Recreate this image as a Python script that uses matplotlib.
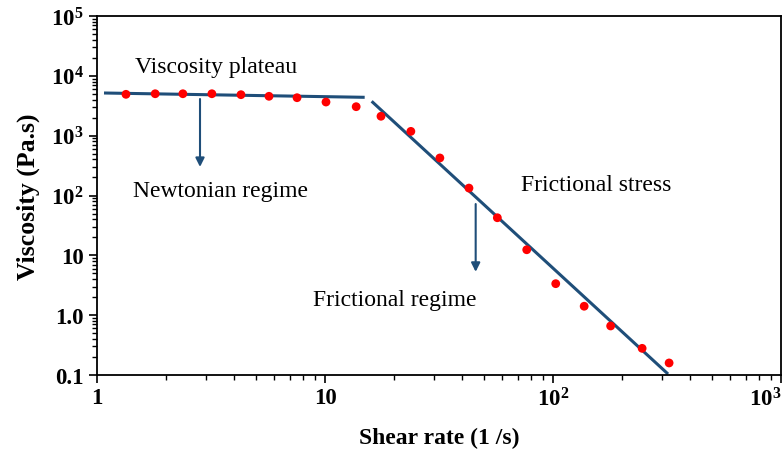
import matplotlib
matplotlib.use("Agg")
import matplotlib.pyplot as plt
from matplotlib.ticker import FixedLocator, FixedFormatter, LogLocator, NullFormatter

plt.rcParams['font.family'] = ['Liberation Serif', 'DejaVu Serif']
plt.rcParams['mathtext.fontset'] = 'custom'
plt.rcParams['mathtext.rm'] = 'Liberation Serif:bold'
plt.rcParams['mathtext.it'] = 'Liberation Serif:bold'
plt.rcParams['mathtext.bf'] = 'Liberation Serif:bold'

# data points (shear rate, viscosity)
shear_rate = [1.34, 1.80, 2.38, 3.19, 4.28, 5.68, 7.54, 10.1, 13.7, 17.6,
              23.8, 31.9, 42.8, 57.0, 76.7, 102.8, 137, 179, 246, 323]
viscosity = [4910, 5020, 5020, 5020, 4840, 4550, 4310, 3650, 3050, 2110,
             1180, 424, 133, 42.5, 12.4, 3.36, 1.41, 0.66, 0.279, 0.159]

# fitted lines
plateau_x = [1.09, 14.7]
plateau_y = [5160, 4380]
friction_x = [16.2, 316]
friction_y = [3610, 0.108]

# arrows (x, y_start, y_end)
arrow1 = (2.83, 4100, 300)
arrow2 = (45.8, 72, 5.3)

xticks = [1, 10, 100, 1000]
xticklabels = ['1', '10', '$10^{2}$', '$10^{3}$']
yticks = [0.1, 1, 10, 100, 1000, 1e4, 1e5]
yticklabels = ['0.1', '1.0', '10', '$10^{2}$', '$10^{3}$', '$10^{4}$', '$10^{5}$']

line_color = '#1f4e79'

fig = plt.figure(figsize=(7.84, 4.52), dpi=100)
ax = fig.add_axes([97/784, 1-376/452, (781-97)/784, (376-17)/452])
ax.set_xscale('log')
ax.set_yscale('log')
ax.set_xlim(1, 1000)
ax.set_ylim(0.1, 1e5)

ax.plot(plateau_x, plateau_y, color=line_color, lw=2.2, zorder=2)
ax.plot(friction_x, friction_y, color=line_color, lw=2.2, zorder=2)
ax.scatter(shear_rate, viscosity, s=40, color='#ff0000', zorder=3, edgecolors='none')

for (xa, y0, y1) in [arrow1, arrow2]:
    ax.annotate('', xy=(xa, y1), xytext=(xa, y0),
                arrowprops=dict(arrowstyle='-|>', color=line_color, lw=1.5,
                                mutation_scale=13, shrinkA=0, shrinkB=0))

ax.text(1.468, 14060, 'Viscosity plateau', fontsize=17, ha='left', va='center')
ax.text(1.438, 119, 'Newtonian regime', fontsize=17, ha='left', va='center')
ax.text(72.4, 155, 'Frictional stress', fontsize=17, ha='left', va='center')
ax.text(8.86, 1.86, 'Frictional regime', fontsize=17, ha='left', va='center')

ax.xaxis.set_major_locator(FixedLocator(xticks))
ax.xaxis.set_major_formatter(FixedFormatter(xticklabels))
ax.yaxis.set_major_locator(FixedLocator(yticks))
ax.yaxis.set_major_formatter(FixedFormatter(yticklabels))
ax.xaxis.set_minor_locator(LogLocator(base=10, subs=range(2, 10)))
ax.yaxis.set_minor_locator(LogLocator(base=10, subs=range(2, 10)))
ax.xaxis.set_minor_formatter(NullFormatter())
ax.yaxis.set_minor_formatter(NullFormatter())

ax.tick_params(which='major', direction='out', length=6, width=1.2, labelsize=16.5)
ax.tick_params(which='minor', direction='out', length=3.5, width=1)
ax.tick_params(axis='x', which='major', pad=3)
for lab in ax.get_xticklabels() + ax.get_yticklabels():
    lab.set_fontweight('bold')
ax.get_xticklabels()[-1].set_horizontalalignment('right')

for sp in ax.spines.values():
    sp.set_linewidth(1.3)

ax.set_xlabel('Shear rate (1 /s)', fontsize=17, fontweight='bold', labelpad=12)
ax.set_ylabel('Viscosity (Pa.s)', fontsize=18.5, fontweight='bold', labelpad=8)

fig.savefig('out.png', dpi=100)
